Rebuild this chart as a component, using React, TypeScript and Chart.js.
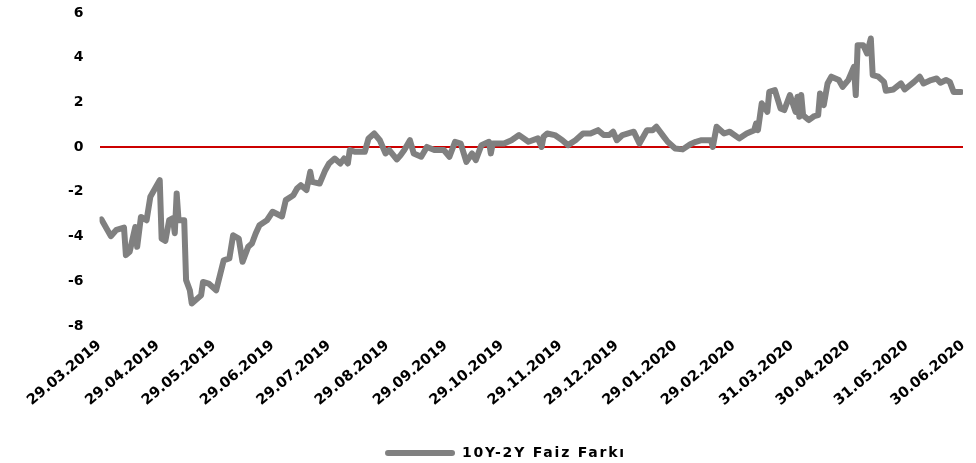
import React, { useEffect, useRef } from "react";
import { Chart, registerables } from "chart.js";

Chart.register(...registerables);

// Days elapsed since 29.03.2019
const dayOffsets: number[] = [
  1, 6, 9, 13, 14, 16, 19, 20, 22, 25, 27, 32, 33, 35, 37, 39, 40, 41, 42, 45,
  46, 48, 49, 54, 55, 58, 62, 66, 69, 71, 74, 76, 79, 81, 83, 85, 89, 92, 97,
  99, 103, 105, 107, 110, 112, 113, 117, 120, 122, 125, 128, 130, 132, 133, 136,
  141, 143, 146, 149, 152, 154, 158, 160, 162, 165, 167, 171, 174, 178, 183, 186,
  189, 192, 195, 198, 200, 203, 207, 208, 209, 215, 219, 223, 228, 233, 235, 236,
  238, 242, 246, 249, 253, 257, 261, 265, 268, 271, 273, 275, 278, 284, 287, 291,
  294, 296, 300, 302, 306, 310, 314, 317, 320, 325, 326, 328, 332, 335, 340, 344,
  348, 349, 350, 352, 355, 356, 359, 362, 364, 367, 370, 371, 372, 373, 374, 377,
  380, 382, 383, 385, 387, 389, 393, 395, 398, 401, 402, 403, 406, 408, 410, 411,
  414, 417, 418, 422, 426, 428, 433, 436, 438, 442, 445, 447, 450, 452, 454, 458,
];

const spreadValues: number[] = [
  -3.23, -3.98, -3.7, -3.6, -4.83, -4.68, -3.57, -4.46, -3.12, -3.27, -2.22, -1.48,
  -4.09, -4.19, -3.27, -3.18, -3.85, -2.07, -3.27, -3.27, -5.95, -6.4, -6.99, -6.62,
  -6.03, -6.1, -6.4, -5.06, -4.98, -3.94, -4.09, -5.13, -4.46, -4.31, -3.86, -3.49,
  -3.27, -2.89, -3.1, -2.37, -2.15, -1.85, -1.7, -1.92, -1.1, -1.55, -1.63, -1.03,
  -0.73, -0.51, -0.73, -0.51, -0.73, -0.13, -0.21, -0.21, 0.39, 0.61, 0.31, -0.28,
  -0.13, -0.55, -0.36, -0.13, 0.31, -0.28, -0.43, 0.01, -0.13, -0.13, -0.43, 0.24,
  0.16, -0.66, -0.28, -0.58, 0.09, 0.24, -0.28, 0.16, 0.16, 0.31, 0.54, 0.24, 0.39,
  0.01, 0.46, 0.61, 0.54, 0.31, 0.09, 0.31, 0.61, 0.61, 0.76, 0.54, 0.54, 0.69,
  0.31, 0.54, 0.69, 0.16, 0.76, 0.76, 0.91, 0.46, 0.24, -0.06, -0.1, 0.13, 0.24,
  0.31, 0.31, 0.01, 0.91, 0.61, 0.69, 0.39, 0.61, 0.76, 1.06, 0.76, 1.96, 1.58,
  2.47, 2.55, 1.73, 1.66, 2.33, 1.58, 2.25, 1.36, 2.33, 1.43, 1.21, 1.39, 1.43,
  2.4, 1.88, 2.85, 3.15, 3.0, 2.7, 3.0, 3.59, 2.33, 4.56, 4.56, 4.19, 4.86, 3.22,
  3.15, 2.92, 2.52, 2.58, 2.85, 2.58, 2.92, 3.15, 2.85, 3.0, 3.07, 2.88, 3.0, 2.92,
  2.47, 2.47,
];

const tickDays: number[] = [0, 31, 61, 92, 122, 153, 184, 214, 245, 275, 306, 337, 368, 398, 429, 459];
const tickLabels: string[] = [
  "29.03.2019", "29.04.2019", "29.05.2019", "29.06.2019", "29.07.2019", "29.08.2019",
  "29.09.2019", "29.10.2019", "29.11.2019", "29.12.2019", "29.01.2020", "29.02.2020",
  "31.03.2020", "30.04.2020", "31.05.2020", "30.06.2020",
];
const seriesName = "10Y-2Y Faiz Farkı";

const FONT_FAMILY = "'DejaVu Sans', sans-serif";

const noPadding = () => ({ left: 0, top: 0, right: 0, bottom: 0 });

const layoutTweaks = {
  id: "layoutTweaks",
  beforeLayout: (c: any) => {
    Object.values(c.scales).forEach((s: any) => {
      s.getPadding = noPadding;
    });
    const lg = c.legend;
    if (lg && !lg.__patched) {
      lg.__patched = true;
      const origFit = lg.fit.bind(lg);
      const origDraw = lg.draw.bind(lg);
      lg.fit = () => {
        const ctx = c.ctx;
        const prev = ctx.letterSpacing;
        ctx.letterSpacing = "1.8px";
        origFit();
        ctx.letterSpacing = prev || "0px";
      };
      lg.draw = () => {
        const ctx = c.ctx;
        ctx.save();
        ctx.translate(-2, 0);
        ctx.letterSpacing = "1.8px";
        origDraw();
        ctx.restore();
      };
    }
  },
};

export default function App() {
  const canvasRef = useRef<HTMLCanvasElement | null>(null);

  useEffect(() => {
    if (!canvasRef.current) return;
    const data = dayOffsets.map((d, i) => ({ x: d, y: spreadValues[i] }));
    const chart = new Chart(canvasRef.current, {
      type: "line",
      data: {
        datasets: [
          {
            label: seriesName,
            data,
            borderColor: "#808080",
            backgroundColor: "#808080",
            borderWidth: 6,
            pointRadius: 0,
            tension: 0,
            borderJoinStyle: "round",
            borderCapStyle: "round",
          },
        ],
      },
      plugins: [layoutTweaks],
      options: {
        animation: false,
        responsive: true,
        maintainAspectRatio: false,
        layout: { autoPadding: false, padding: { left: 52, right: 13, top: 13, bottom: 0 } },
        plugins: {
          tooltip: { enabled: false },
          legend: {
            position: "bottom",
            maxHeight: 19,
            labels: {
              boxWidth: 70,
              boxHeight: 6,
              useBorderRadius: true,
              borderRadius: 3,
              padding: 2,
              color: "#000",
              font: { family: FONT_FAMILY, size: 14, weight: "bold" },
              generateLabels: (c: any) => {
                const items = Chart.defaults.plugins.legend.labels.generateLabels(c);
                return items.map((it: any) => ({ ...it, lineWidth: 0, fillStyle: "#808080" }));
              },
            },
          },
        },
        scales: {
          x: {
            type: "linear",
            min: 0,
            max: 459,
            afterBuildTicks: (axis: any) => {
              axis.ticks = tickDays.map((v) => ({ value: v }));
            },
            afterFit: (axis: any) => {
              axis.height = 118;
            },
            grid: { display: false },
            border: { display: false },
            ticks: {
              autoSkip: false,
              minRotation: 40,
              maxRotation: 40,
              padding: 3,
              color: "#000",
              font: { family: FONT_FAMILY, size: 14.5, weight: "bold" },
              callback: (v: any) => {
                const i = tickDays.indexOf(Number(v));
                return i >= 0 ? tickLabels[i] : "";
              },
            },
          },
          y: {
            min: -8,
            max: 6,
            border: { display: false },
            grid: {
              drawTicks: false,
              lineWidth: 2,
              color: (ctx: any) => (ctx.tick && ctx.tick.value === 0 ? "#CC0000" : "rgba(0,0,0,0)"),
            },
            ticks: {
              stepSize: 2,
              padding: 16,
              color: "#000",
              font: { family: FONT_FAMILY, size: 14, weight: "bold" },
            },
          },
        },
      },
    });
    return () => chart.destroy();
  }, []);

  return (
    <div style={{ position: "fixed", left: 0, top: 0, width: 976, height: 463 }}>
      <canvas ref={canvasRef} />
    </div>
  );
}
